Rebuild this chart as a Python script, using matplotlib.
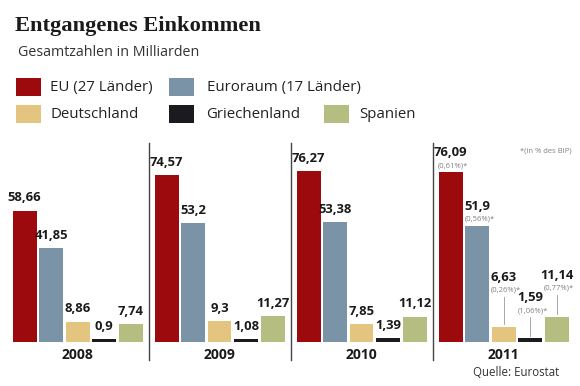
import matplotlib.pyplot as plt
from matplotlib.patches import Rectangle

# ---------------------- Daten / data ----------------------
jahre = ["2008", "2009", "2010", "2011"]
laender = ["EU (27 Länder)", "Euroraum (17 Länder)", "Deutschland", "Griechenland", "Spanien"]
farben = ["#9c0a0e", "#7b93a6", "#e3c57f", "#1b1b1f", "#b6bd80"]

eu = [58.66, 74.57, 76.27, 76.09]
euroraum = [41.85, 53.2, 53.38, 51.9]
deutschland = [8.86, 9.3, 7.85, 6.63]
griechenland = [0.9, 1.08, 1.39, 1.59]
spanien = [7.74, 11.27, 11.12, 11.14]
serien = [eu, euroraum, deutschland, griechenland, spanien]

# Anteil am BIP 2011 / share of GDP 2011
bip_2011 = ["0,61%", "0,56%", "0,26%", "1,06%", "0,77%"]

# ---------------------- Layout ----------------------
W, H = 580, 386
fig = plt.figure(figsize=(W / 100, H / 100), dpi=100)

def fx(px):
    return px / W

def fy(py):  # py von oben / from top
    return 1 - py / H

base_px = 341.5
px_per_unit = 2.23
grp_px = 142.0
ax_top = 140
ax = fig.add_axes([0, fy(base_px), 1, (base_px - ax_top) / H])
ax.set_xlim(-77.5 / grp_px, (W - 77.5) / grp_px)
ax.set_ylim(0, (base_px - ax_top) / px_per_unit)
ax.axis("off")

step = 26.5 / grp_px
width = 24 / grp_px
fmt = lambda v: f"{v:g}".replace(".", ",")

bold = dict(family="Open Sans", weight="bold", fontsize=9.4, color="#1a1a1a")
small = dict(family="Open Sans", fontsize=5.5, color="#808080")

# extra Abstand der Labels 2011 in px / label lift for 2011 small bars
lift_2011 = [0, 0, 30, 21, 22]

for i, (serie, farbe) in enumerate(zip(serien, farben)):
    xs = [g + (i - 2) * step for g in range(len(jahre))]
    ax.bar(xs, serie, width=width, color=farbe, linewidth=0)
    for g, (x, v) in enumerate(zip(xs, serie)):
        if g < 3:
            ax.annotate(fmt(v), (x, v), xytext=(0, 4.5), textcoords="offset points",
                        ha="center", va="bottom", **bold)
        else:
            lift = lift_2011[i] / px_per_unit
            ax.annotate(fmt(v), (x, v + lift), xytext=(0, 9), textcoords="offset points",
                        ha="center", va="bottom", **bold)
            ax.annotate(f"({bip_2011[i]})*", (x, v + lift), xytext=(2, 2), textcoords="offset points",
                        ha="center", va="bottom", **small)
            if lift > 0:
                ax.plot([x, x], [v + 1, v + lift], color="#999999", lw=0.6)

# Trennlinien / dividers
for g in range(len(jahre) - 1):
    ax.plot([g + 0.5, g + 0.5], [-18.5 / px_per_unit, (base_px - 143) / px_per_unit],
            color="#444444", lw=1, clip_on=False)

# Jahreszahlen / year labels
for g, j in enumerate(jahre):
    ax.text(g, -13.5 / px_per_unit, j, ha="center", va="center",
            family="Open Sans", weight="bold", fontsize=10, color="#1a1a1a")

# ---------------------- Titel, Legende / title, legend ----------------------
fig.text(fx(15), fy(26), "Entgangenes Einkommen", family="Liberation Serif", weight="bold",
         fontsize=16.2, color="#1a1a1a", va="center")
fig.text(fx(18), fy(52), "Gesamtzahlen in Milliarden", family="Open Sans",
         fontsize=10.3, color="#333333", va="center")

leg_pos = [(16, 78, 50), (169, 78, 207), (16, 105, 50), (169, 105, 206), (324, 105, 359)]
for (sx, sy, tx), farbe, name in zip(leg_pos, farben, laender):
    fig.add_artist(Rectangle((fx(sx), fy(sy + 18)), fx(25), 18 / H, color=farbe,
                             transform=fig.transFigure, lw=0))
    fig.text(fx(tx), fy(sy + 9), name, family="Open Sans", fontsize=10.8,
             color="#222222", va="center")

fig.text(fx(520), fy(151), "*(in % des BIP)", family="Open Sans", fontsize=5.5,
         color="#808080", va="center")
fig.text(fx(473), fy(373), "Quelle: Eurostat", family="Open Sans", fontsize=8.3,
         color="#333333", va="center")

fig.savefig("out.png", dpi=100, facecolor="white")
